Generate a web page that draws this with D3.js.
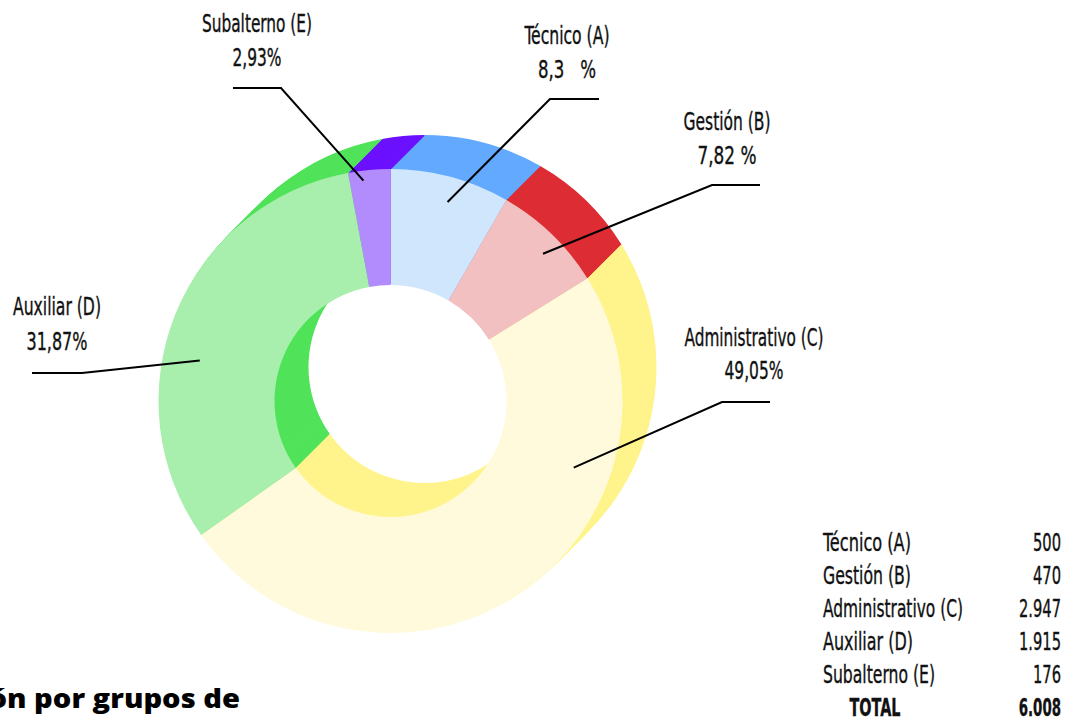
<html>
<head>
<meta charset="utf-8">
<title>grupos de titulación</title>
<script src="https://d3js.org/d3.v7.min.js"></script>
<style>
body { margin: 0; background: #fff; }
svg { display: block; }
.lbl { font-family: 'Liberation Sans Narrow', 'DejaVu Sans Condensed', 'Liberation Sans', sans-serif; font-size: 24px; fill: #111; stroke: #111; stroke-width: 0.35px; white-space: pre; }
.title { font-family: 'Open Sans', 'Noto Sans', sans-serif; font-weight: 800; font-size: 26px; fill: #000; }
</style>
</head>
<body>
<svg id="chart" width="1072" height="726"></svg>
<script>
// data
var groups = ["Técnico (A)", "Gestión (B)", "Administrativo (C)", "Auxiliar (D)", "Subalterno (E)"];
var counts = [500, 470, 2947, 1915, 176];
var percentLabels = ["8,3   %", "7,82 %", "49,05%", "31,87%", "2,93%"];
var countLabels = ["500", "470", "2.947", "1.915", "176"];
var totalName = "TOTAL";
var totalLabel = "6.008";
var darkColors = ["#63aaff", "#dd2d34", "#fff48c", "#51e35a", "#6c11ff"];
var paleColors = ["#d0e6fd", "#f3c0c2", "#fffadc", "#a8efad", "#b28bfc"];

var svg = d3.select("#chart");

// donut geometry
var cx = 390.5, cy = 401;
var outerR = 232, innerR = 116;
var depth = 34;

var pie = d3.pie().sort(null).value(function (d) { return d; });
var slices = pie(counts);
var arc = d3.arc().innerRadius(innerR).outerRadius(outerR);

// extruded back part: stack copies from back to front
d3.range(depth, 0, -1).forEach(function (k) {
	svg.append("g")
	.attr("transform", "translate(" + (cx + k) + "," + (cy - k) + ")")
	.selectAll("path")
	.data(slices)
	.enter().append("path")
	.attr("d", arc)
	.style("fill", function (d, i) { return darkColors[i]; });
});

// front face
svg.append("g")
.attr("transform", "translate(" + cx + "," + cy + ")")
.selectAll("path")
.data(slices)
.enter().append("path")
.attr("d", arc)
.style("fill", function (d, i) { return paleColors[i]; });

// callouts: angle (deg, from top clockwise) and radius where the line starts,
// elbow point, end of the horizontal, label centre and baselines
var callouts = [
	{ ang: 16,  r: 207, ex: 550, ey: 99,  hx: 599, lx: 567, ny: 44,  py: 78,  nw: 85,  pw: 58 },
	{ ang: 46,  r: 212, ex: 712, ey: 185, hx: 760, lx: 727, ny: 130, py: 164, nw: 87,  pw: 59 },
	{ ang: 110, r: 195, ex: 722, ey: 402, hx: 770, lx: 754, ny: 346, py: 379, nw: 139, pw: 59 },
	{ ang: 282, r: 195, ex: 82,  ey: 373, hx: 32,  lx: 57,  ny: 315, py: 350, nw: 88,  pw: 61 },
	{ ang: 353, r: 222, ex: 281, ey: 88,  hx: 233, lx: 257, ny: 32,  py: 66,  nw: 110, pw: 49 }
];

callouts.forEach(function (c, i) {
	var a = c.ang * Math.PI / 180;
	var sx = cx + c.r * Math.sin(a);
	var sy = cy - c.r * Math.cos(a);
	svg.append("polyline")
	.attr("points", [[sx, sy], [c.ex, c.ey], [c.hx, c.ey]].join(" "))
	.style("fill", "none")
	.style("stroke", "#000")
	.style("stroke-width", 2);
	svg.append("text")
	.attr("class", "lbl")
	.text(groups[i])
	.attr("x", c.lx)
	.attr("y", c.ny)
	.attr("text-anchor", "middle")
	.attr("textLength", c.nw)
	.attr("lengthAdjust", "spacingAndGlyphs");
	svg.append("text")
	.attr("class", "lbl")
	.text(percentLabels[i])
	.attr("x", c.lx)
	.attr("y", c.py)
	.attr("text-anchor", "middle")
	.attr("textLength", c.pw)
	.attr("lengthAdjust", "spacingAndGlyphs");
});

// summary table, bottom right
var rowY = d3.scaleLinear().domain([0, 5]).range([551, 716]);
var nameWidths = [88, 88, 140, 90, 112];
groups.forEach(function (g, i) {
	svg.append("text")
	.attr("class", "lbl")
	.text(g)
	.attr("x", 823)
	.attr("y", rowY(i))
	.attr("textLength", nameWidths[i])
	.attr("lengthAdjust", "spacingAndGlyphs");
	svg.append("text")
	.attr("class", "lbl")
	.text(countLabels[i])
	.attr("text-anchor", "end")
	.attr("transform", "translate(1061," + rowY(i) + ") scale(0.68,1)");
});
svg.append("text")
.attr("class", "lbl")
.text(totalName)
.attr("x", 875)
.attr("y", rowY(5))
.attr("text-anchor", "middle")
.style("font-weight", "bold")
.attr("textLength", 51)
.attr("lengthAdjust", "spacingAndGlyphs");
svg.append("text")
.attr("class", "lbl")
.text(totalLabel)
.attr("text-anchor", "end")
.style("font-weight", "bold")
.attr("transform", "translate(1061," + rowY(5) + ") scale(0.62,1)");

// title, cut off at the left edge like the original
svg.append("text")
.attr("class", "title")
.text("Distribución por grupos de")
.attr("text-anchor", "end")
.attr("transform", "translate(240,708) scale(1.12,1)");
</script>
</body>
</html>
